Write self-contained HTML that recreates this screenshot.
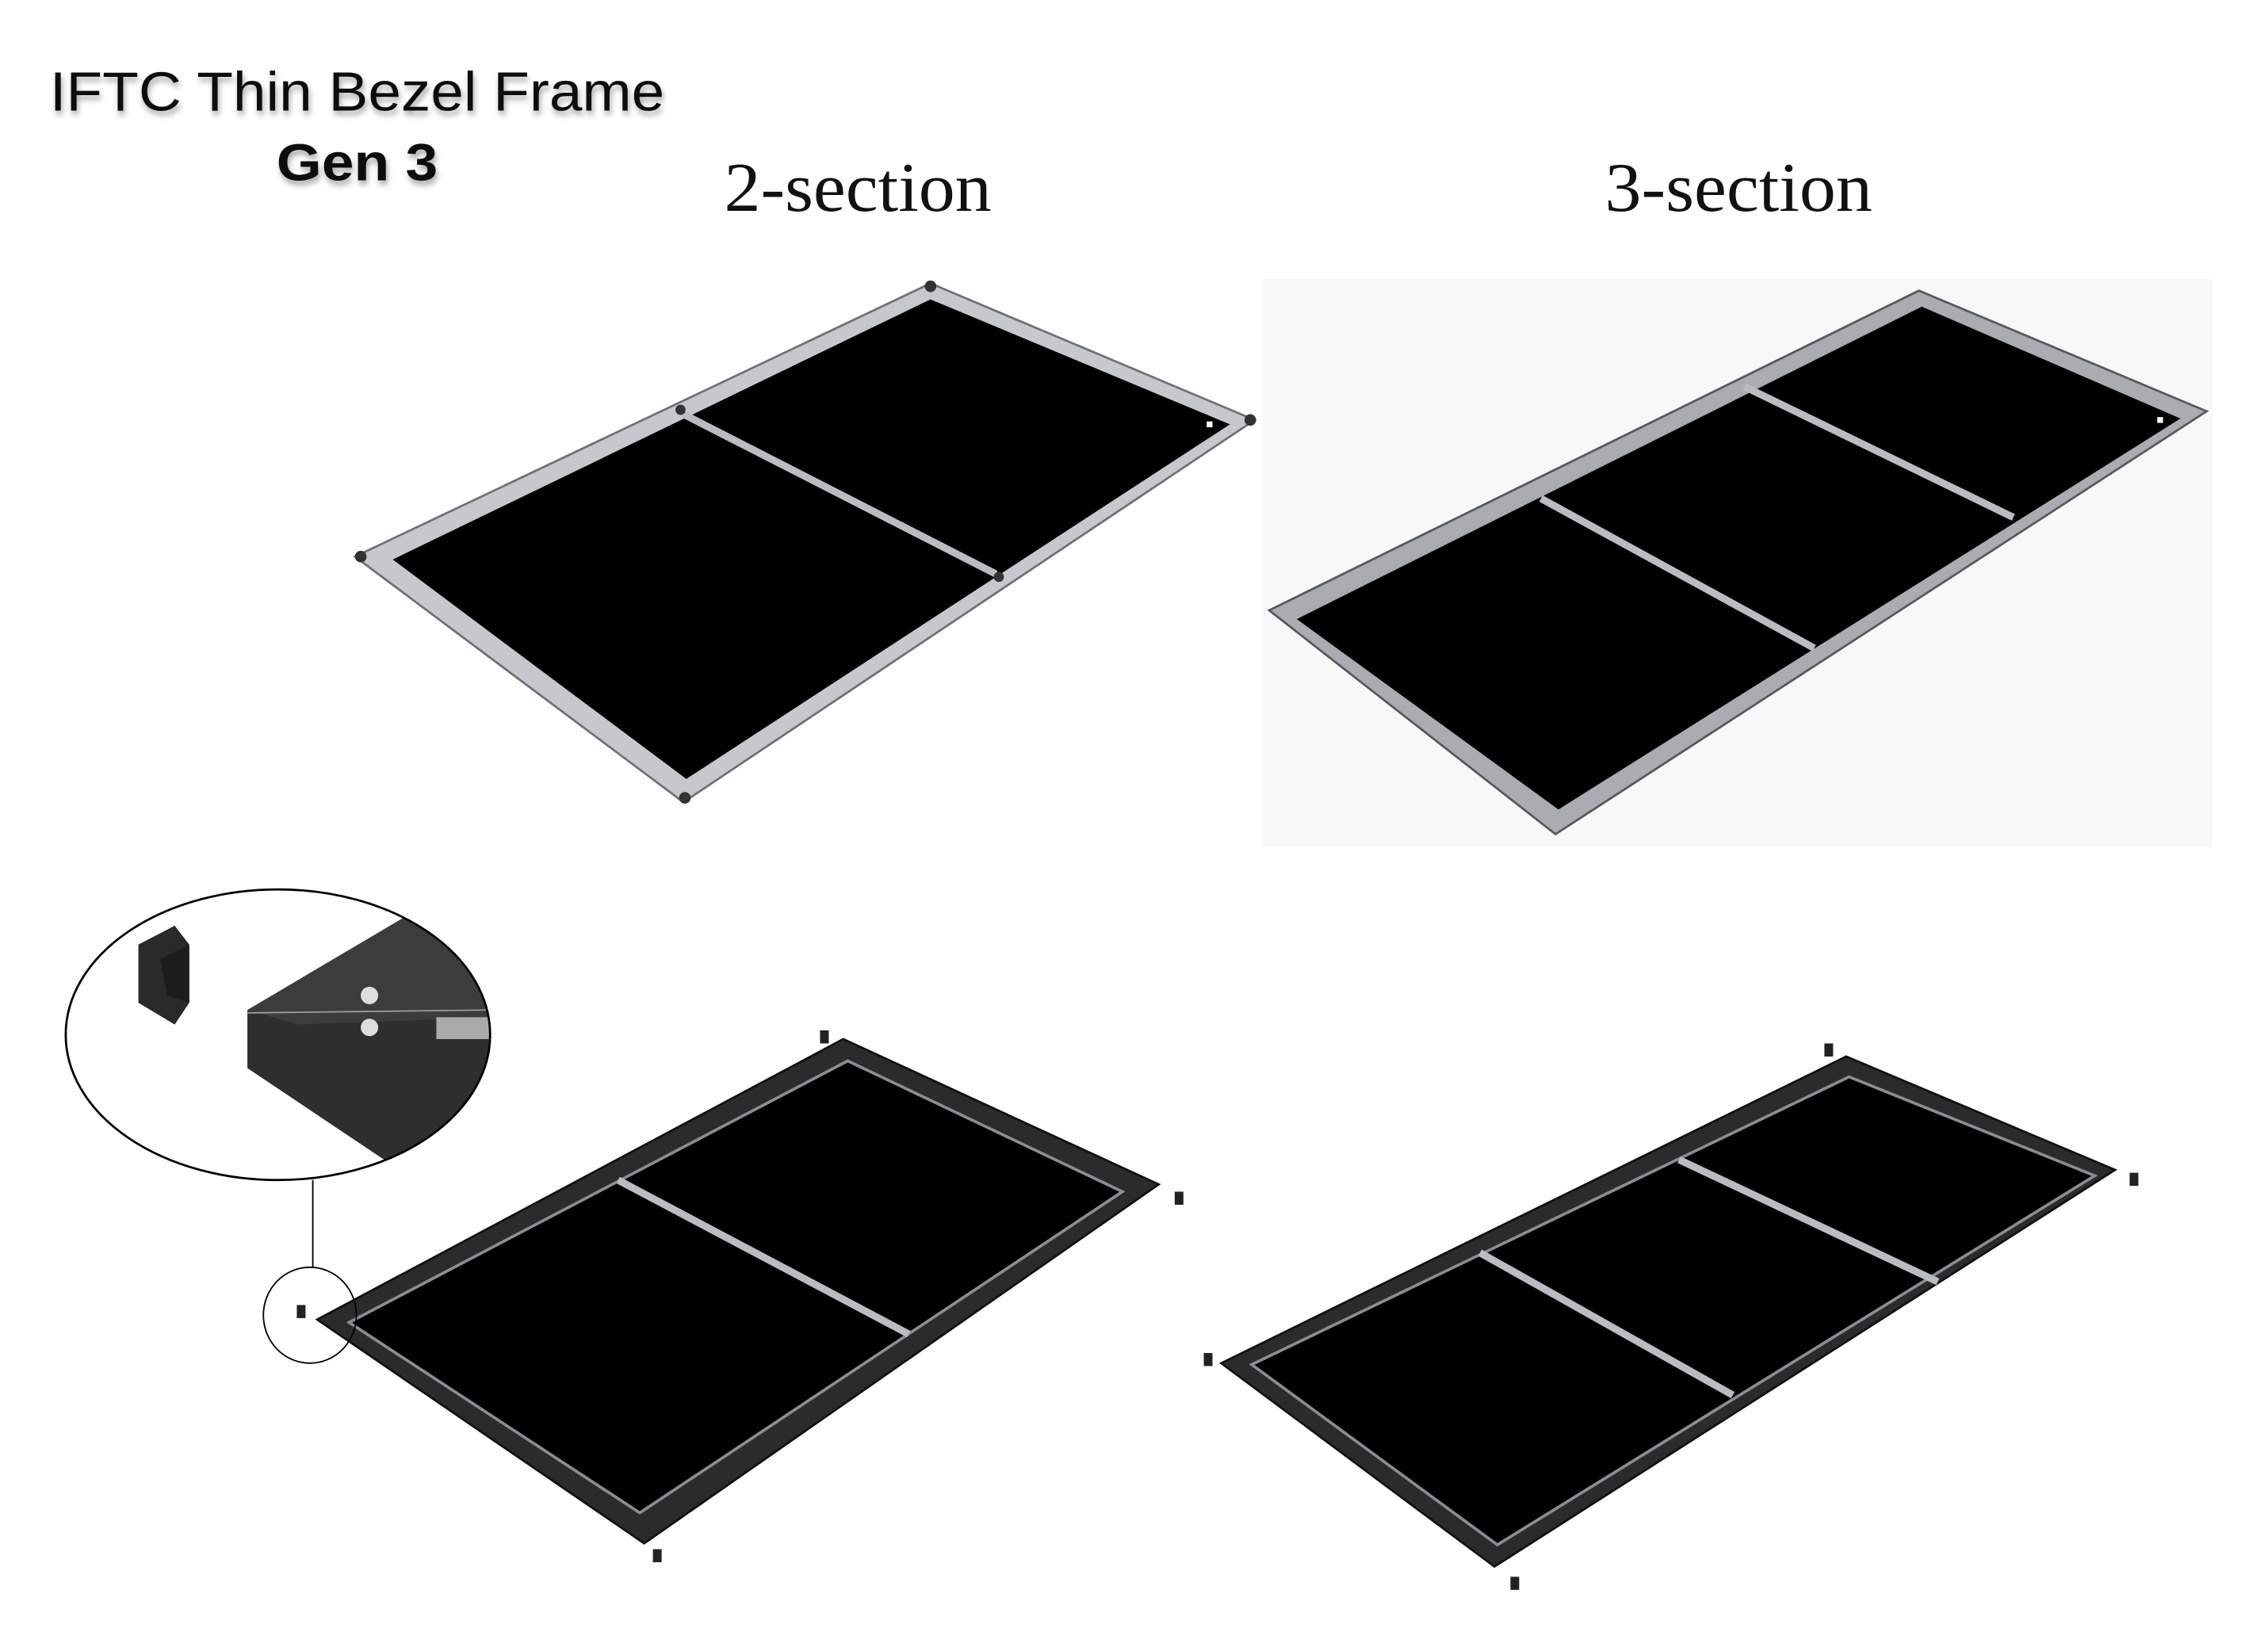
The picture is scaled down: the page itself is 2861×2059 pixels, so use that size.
<!DOCTYPE html>
<html><head><meta charset="utf-8"><style>
html,body{margin:0;padding:0;background:#fff}
svg{display:block}
</style></head><body>
<svg width="2861" height="2059" viewBox="0 0 1560 1123" xmlns="http://www.w3.org/2000/svg">
<defs>
<clipPath id="mag"><ellipse cx="191" cy="712" rx="146" ry="100"/></clipPath>
<filter id="sh" x="-10%" y="-10%" width="120%" height="140%"><feDropShadow dx="1" dy="3" stdDeviation="2" flood-color="#000" flood-opacity="0.35"/></filter>
</defs>
<rect width="1560" height="1123" fill="#fff"/>
<text x="34" y="76" font-family="Liberation Sans, sans-serif" font-size="38" textLength="423" lengthAdjust="spacingAndGlyphs" fill="#111" filter="url(#sh)">IFTC Thin Bezel Frame</text>
<text x="190" y="124" font-family="Liberation Sans, sans-serif" font-size="36" font-weight="bold" textLength="111" lengthAdjust="spacingAndGlyphs" fill="#111" filter="url(#sh)">Gen 3</text>
<text x="498" y="145" font-family="Liberation Serif, serif" font-size="48" textLength="184" lengthAdjust="spacingAndGlyphs" fill="#111">2-section</text>
<text x="1104" y="145" font-family="Liberation Serif, serif" font-size="48" textLength="184" lengthAdjust="spacingAndGlyphs" fill="#111">3-section</text>

<!-- Frame 1 -->
<polygon points="640,195 863,289 470,552 244,383" fill="#c5c9ce" stroke="#6d7176" stroke-width="1.5"/>
<polygon points="640,206 846,292 472,536 270,385" fill="#000"/>
<line x1="470" y1="285" x2="685" y2="395" stroke="#b9bdc2" stroke-width="5"/>
<g fill="#333"><circle cx="640" cy="197" r="4"/><circle cx="860" cy="289" r="4"/><circle cx="471" cy="549" r="4"/><circle cx="248" cy="383" r="4"/><circle cx="468" cy="282" r="3.5"/><circle cx="687" cy="397" r="3.5"/></g>
<rect x="830" y="290" width="4" height="4" fill="#fff"/>

<!-- Frame 2 -->
<rect x="868" y="192" width="654" height="391" fill="#f8f8f8"/>
<polygon points="1320,200 1518,283 1070,574 873,420" fill="#a9adb2" stroke="#55595e" stroke-width="1.5"/>
<polygon points="1322,211 1500,288 1072,557 892,426" fill="#000"/>
<line x1="1060" y1="343" x2="1248" y2="446" stroke="#b9bdc2" stroke-width="5"/>
<line x1="1200" y1="266" x2="1385" y2="356" stroke="#b9bdc2" stroke-width="5"/>
<rect x="1484" y="287" width="4" height="4" fill="#fff"/>

<!-- Frame 3 -->
<polygon points="580,715 797,815 443,1062 218,908" fill="#2b2b2b" stroke="#111" stroke-width="1.5"/>
<polygon points="583,730 772,820 440,1041 240,910" fill="#000" stroke="#8a8e93" stroke-width="2"/>
<line x1="425" y1="812" x2="625" y2="918" stroke="#b9bdc2" stroke-width="5"/>
<g fill="#222"><rect x="564" y="709" width="6" height="9"/><rect x="808" y="820" width="6" height="9"/><rect x="449" y="1066" width="6" height="9"/><rect x="204" y="898" width="6" height="9"/></g>

<!-- Frame 4 -->
<polygon points="1270,727 1455,805 1028,1078 840,938" fill="#2b2b2b" stroke="#111" stroke-width="1.5"/>
<polygon points="1272,741 1441,809 1030,1063 861,939" fill="#000" stroke="#8a8e93" stroke-width="2"/>
<line x1="1018" y1="862" x2="1192" y2="960" stroke="#b9bdc2" stroke-width="5"/>
<line x1="1155" y1="798" x2="1333" y2="882" stroke="#b9bdc2" stroke-width="5"/>
<g fill="#222"><rect x="1255" y="718" width="6" height="9"/><rect x="1465" y="807" width="6" height="9"/><rect x="1039" y="1085" width="6" height="9"/><rect x="828" y="931" width="6" height="9"/></g>

<!-- Magnifier -->
<g clip-path="url(#mag)">
<polygon points="170,695 280,630 340,640 340,770 300,812 285,812 170,735" fill="#2e2e2e"/>
<polygon points="170,695 280,630 340,640 340,700 205,705" fill="#3c3c3c"/>
<line x1="170" y1="697" x2="335" y2="695" stroke="#999" stroke-width="1"/>
<polygon points="300,700 340,700 340,715 300,715" fill="#aaa"/>
<circle cx="254" cy="685" r="6" fill="#ddd"/><circle cx="254" cy="707" r="6" fill="#ddd"/>
<polygon points="95,650 120,637 130,650 130,690 120,705 95,690" fill="#2a2a2a"/>
<polygon points="110,660 130,650 130,690 115,685" fill="#1c1c1c"/>
</g>
<ellipse cx="191" cy="712" rx="146" ry="100" fill="none" stroke="#000" stroke-width="1.5"/>
<line x1="215" y1="812" x2="215" y2="872" stroke="#000" stroke-width="1"/>
<ellipse cx="213" cy="905" rx="32" ry="33" fill="none" stroke="#000" stroke-width="1"/>
</svg>
</body></html>
